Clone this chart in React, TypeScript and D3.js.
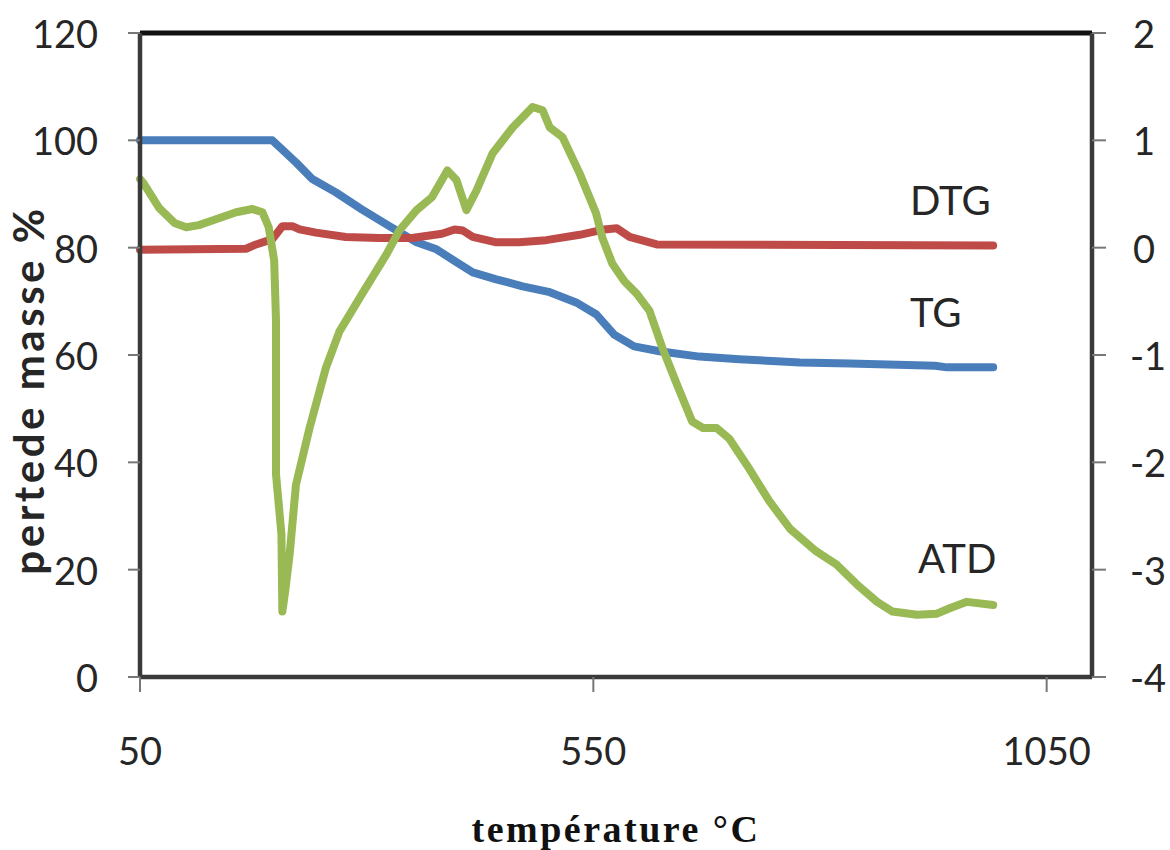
import React from "react";
import * as d3 from "d3";

// Temperature grid (°C) and measured curves
const tgTemp = [50, 196, 222, 240, 266, 295, 325, 355, 377, 399, 417, 443, 472, 502, 531, 553, 573, 595, 623, 667, 711, 778, 833, 927, 940, 991];
const tgMass = [100, 100, 95.9, 92.8, 90.3, 87.1, 84.0, 81.0, 79.7, 77.3, 75.4, 74.1, 72.8, 71.7, 69.8, 67.6, 63.8, 61.6, 60.7, 59.7, 59.2, 58.6, 58.4, 58.0, 57.7, 57.7];

const dtgTemp = [50, 167, 178, 196, 207, 218, 226, 244, 277, 314, 350, 383, 397, 406, 417, 443, 468, 498, 535, 562, 576, 590, 620, 991];
const dtgValue = [-0.02, -0.01, 0.03, 0.08, 0.2, 0.2, 0.17, 0.14, 0.1, 0.09, 0.09, 0.13, 0.17, 0.16, 0.1, 0.05, 0.05, 0.07, 0.12, 0.17, 0.18, 0.1, 0.03, 0.02];

const atdTemp = [50, 54, 71, 88, 101, 115, 129, 156, 174, 185, 192, 198, 200, 200, 206, 207, 210, 215, 222, 237, 255, 270, 295, 322, 336, 355, 372, 383, 389, 399, 410, 421, 439, 461, 483, 494, 502, 516, 535, 553, 560, 571, 584, 598, 612, 626, 642, 659, 671, 686, 700, 722, 744, 767, 796, 818, 841, 863, 880, 907, 929, 943, 962, 991];
const atdValue = [0.64, 0.6, 0.37, 0.23, 0.19, 0.21, 0.25, 0.33, 0.36, 0.33, 0.19, -0.12, -0.68, -2.11, -2.67, -3.39, -3.21, -2.86, -2.21, -1.68, -1.12, -0.78, -0.43, -0.06, 0.16, 0.35, 0.47, 0.63, 0.72, 0.63, 0.35, 0.53, 0.88, 1.12, 1.31, 1.28, 1.12, 1.03, 0.69, 0.32, 0.09, -0.15, -0.31, -0.43, -0.59, -0.93, -1.27, -1.62, -1.68, -1.68, -1.78, -2.06, -2.36, -2.62, -2.83, -2.95, -3.14, -3.3, -3.39, -3.42, -3.41, -3.36, -3.3, -3.33];

const xTicks = [50, 550, 1050];
const leftTicks = [0, 20, 40, 60, 80, 100, 120];
const rightTicks = [-4, -3, -2, -1, 0, 1, 2];

const seriesLabels = [
  { text: "DTG", x: 910, y: 215 },
  { text: "TG", x: 910, y: 327 },
  { text: "ATD", x: 918, y: 573 },
];

const W = 1170;
const H = 850;
const plot = { left: 140, right: 1092, top: 33, bottom: 677 };

const sans = "Lato, 'Open Sans', sans-serif";

export default function App() {
  const x = d3.scaleLinear().domain([50, 1100]).range([plot.left, plot.right]);
  const yL = d3.scaleLinear().domain([0, 120]).range([plot.bottom, plot.top]);
  const yR = d3.scaleLinear().domain([-4, 2]).range([plot.bottom, plot.top]);

  const lineL = d3
    .line<[number, number]>()
    .x((d) => x(d[0]))
    .y((d) => yL(d[1]));
  const lineR = d3
    .line<[number, number]>()
    .x((d) => x(d[0]))
    .y((d) => yR(d[1]));

  const tg = tgTemp.map((t, i) => [t, tgMass[i]] as [number, number]);
  const dtg = dtgTemp.map((t, i) => [t, dtgValue[i]] as [number, number]);
  const atd = atdTemp.map((t, i) => [t, atdValue[i]] as [number, number]);

  const axisColor = "#3a3a3a";
  const textColor = "#262626";

  return (
    <svg
      width={W}
      height={H}
      style={{ position: "absolute", left: 0, top: 0, background: "#fff" }}
    >
      <rect x={0} y={0} width={W} height={H} fill="#fff" />

      {/* curves */}
      <g fill="none" strokeWidth={8} strokeLinejoin="round" strokeLinecap="round">
        <path d={lineL(tg) ?? ""} stroke="#4A7EBB" />
        <path d={lineR(dtg) ?? ""} stroke="#BE4B48" />
        <path d={lineR(atd) ?? ""} stroke="#98B954" />
      </g>

      {/* frame */}
      <line x1={plot.left} x2={plot.right} y1={plot.top} y2={plot.top} stroke="#111" strokeWidth={5} />
      <line x1={plot.left} x2={plot.right} y1={plot.bottom} y2={plot.bottom} stroke={axisColor} strokeWidth={4.5} />
      <line x1={plot.left} x2={plot.left} y1={plot.top} y2={plot.bottom} stroke={axisColor} strokeWidth={4.5} />
      <line x1={plot.right} x2={plot.right} y1={plot.top} y2={plot.bottom} stroke={axisColor} strokeWidth={4.5} />

      {/* left axis */}
      {leftTicks.map((t) => (
        <g key={"l" + t}>
          <line x1={plot.left - 12} x2={plot.left} y1={yL(t)} y2={yL(t)} stroke="#777" strokeWidth={2} />
          <text
            x={98}
            y={yL(t)}
            textAnchor="end"
            dominantBaseline="central"
            fontFamily={sans}
            fontSize={38}
            fill={textColor}
          >
            {t}
          </text>
        </g>
      ))}

      {/* right axis */}
      {rightTicks.map((t) => (
        <g key={"r" + t}>
          <line x1={plot.right} x2={plot.right + 14} y1={yR(t)} y2={yR(t)} stroke="#777" strokeWidth={2} />
          <text
            x={t < 0 ? 1130 : 1133}
            y={yR(t)}
            textAnchor="start"
            dominantBaseline="central"
            fontFamily={sans}
            fontSize={38}
            fill={textColor}
          >
            {t}
          </text>
        </g>
      ))}

      {/* bottom axis */}
      {xTicks.map((t) => (
        <g key={"x" + t}>
          <line x1={x(t)} x2={x(t)} y1={plot.bottom} y2={plot.bottom + 15} stroke="#777" strokeWidth={2} />
          <text
            x={x(t)}
            y={765}
            textAnchor="middle"
            fontFamily={sans}
            fontSize={38}
            fill={textColor}
          >
            {t}
          </text>
        </g>
      ))}

      {/* series labels */}
      {seriesLabels.map((l) => (
        <text key={l.text} x={l.x} y={l.y} fontFamily={sans} fontSize={40} fill={textColor}>
          {l.text}
        </text>
      ))}

      {/* axis titles */}
      <text
        transform="translate(44,390) rotate(-90)"
        textAnchor="middle"
        fontFamily={sans}
        fontWeight={700}
        fontSize={42}
        letterSpacing={3.5}
        fill={textColor}
      >
        pertede masse %
      </text>
      <text
        x={616}
        y={842}
        textAnchor="middle"
        fontFamily="'Liberation Serif', 'DejaVu Serif', serif"
        fontWeight={700}
        fontSize={38}
        letterSpacing={2.5}
        fill="#111"
      >
        température °C
      </text>
    </svg>
  );
}
